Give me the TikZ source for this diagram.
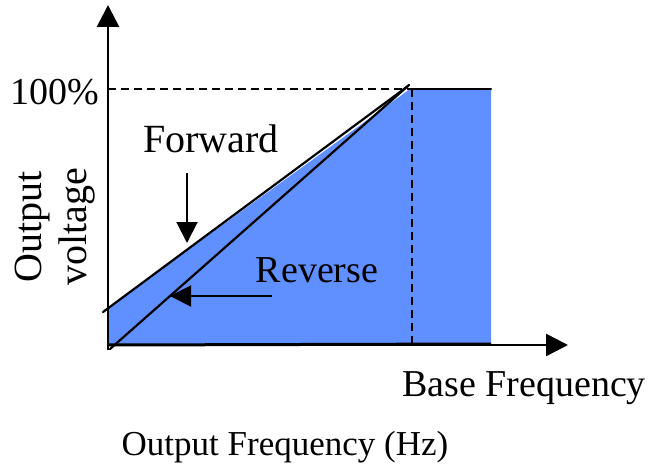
\documentclass[tikz,border=0pt]{standalone}
\usepackage{fontspec}
\setmainfont{Liberation Serif}
\usetikzlibrary{arrows.meta}
\definecolor{areablue}{RGB}{96,144,255}
\tikzset{
  axis/.style={line width=2.6pt, -{Triangle[length=22pt,width=22pt]}},
  slope/.style={line width=2.2pt, line cap=round},
  guide/.style={line width=2pt, dash pattern=on 8pt off 5pt},
  pointer/.style={line width=2pt, -{Triangle[length=21pt,width=21pt]}},
  label-text/.style={font=\fontsize{#1}{45}\selectfont, inner sep=0pt},
  label-text/.default=38
}

\begin{document}
\begin{tikzpicture}[x=1pt,y=-1pt]
  \useasboundingbox (0,0) rectangle (660,470);
  % points of the V/f curve
  \coordinate (origin) at (108,345);
  \coordinate (y-end) at (108,5);
  \coordinate (x-end) at (568,345);
  \coordinate (boost) at (108,308);
  \coordinate (knee) at (410,89);
  \coordinate (plateau-end) at (491,89);
  \coordinate (area-end) at (491,344);
  % shaded working area
  \fill[areablue] (origin) -- (boost) -- (knee) -- (plateau-end) -- (area-end) -- cycle;
  % dashed guides to 100% and base frequency
  \draw[guide] (108,89) -- (knee);
  \draw[guide] (412,89) -- (412,344);
  % forward and reverse lines
  \coordinate (fwd-start) at (103,312);
  \coordinate (fwd-end) at (408,86);
  \coordinate (rev-start) at (110,349);
  \coordinate (rev-end) at (409,85);
  \draw[slope] (fwd-start) -- (fwd-end);
  \draw[slope] (rev-start) -- (rev-end);
  \draw[slope] (knee) -- (plateau-end);
  \draw[line width=3pt] (origin) -- (area-end);
  % axes
  \draw[axis] (108,350) -- (y-end);
  \draw[axis] (origin) -- (x-end);
  % labels
  \node[label-text, anchor=base east] (full) at (99,105) {100\%};
  \node[label-text=40, rotate=90, align=center] (volt) at (55,227) {Output\\voltage};
  \node[label-text=40, anchor=base] (forward) at (211,153) {Forward};
  \node[label-text, anchor=base] (reverse) at (317,282) {Reverse};
  \node[label-text, anchor=base] (base) at (524,396) {Base Frequency};
  \node[label-text=35, anchor=base] (freq) at (285,455) {Output Frequency (Hz)};
  % pointers to the lines
  \coordinate (fwd-from) at (187,173);
  \coordinate (fwd-to) at (187,243);
  \coordinate (rev-from) at (272,296);
  \coordinate (rev-to) at (170,296);
  \draw[pointer] (fwd-from) -- (fwd-to);
  \draw[pointer] (rev-from) -- (rev-to);
\end{tikzpicture}
\end{document}
